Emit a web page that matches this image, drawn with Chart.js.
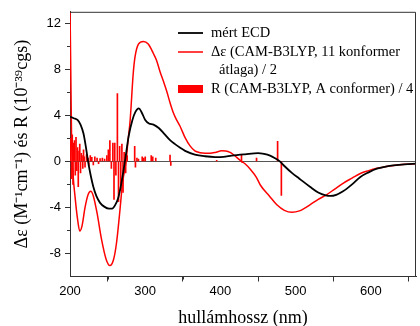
<!DOCTYPE html>
<html>
<head>
<meta charset="utf-8">
<script src="https://cdn.jsdelivr.net/npm/chart.js@4.4.0/dist/chart.umd.min.js"></script>
<style>
  body { margin: 0; background: #fff; }
</style>
</head>
<body>
<canvas id="myChart" width="420" height="326"></canvas>
<script>
// measured ECD
var ecdNm  = [200, 205, 210, 214, 218, 221, 224, 227, 231, 235, 240, 246, 252, 256, 260, 264, 268, 273, 278, 283, 287, 291.5, 295, 300, 305, 311, 318, 326, 333, 339.6, 346, 353, 366, 379.5, 393, 404, 415, 432.7, 450, 458, 466, 472, 479, 485, 495, 505, 519, 530, 540, 546, 554, 563, 575, 586, 597, 608, 620, 630, 645, 660];
var ecdVal = [3.9, 3.75, 3.6, 3.2, 2.4, 1.3, 0, -1.05, -2.2, -3.0, -3.6, -3.95, -4.1, -4.1, -3.8, -3.2, -2.0, 0, 2.2, 3.6, 4.3, 4.6, 4.3, 3.6, 3.3, 3.2, 2.9, 2.35, 1.85, 1.5, 1.2, 0.92, 0.6, 0.45, 0.38, 0.4, 0.5, 0.62, 0.72, 0.65, 0.5, 0.3, 0, -0.4, -1.0, -1.5, -2.2, -2.7, -2.95, -3.0, -2.9, -2.6, -2.0, -1.35, -0.95, -0.63, -0.45, -0.35, -0.25, -0.2];

// calculated, 11 conformer average / 2
var calcNm  = [200, 201, 202, 204, 206.6, 210, 213, 216, 220, 224, 227.5, 231, 236, 242, 248, 253, 258, 262, 266, 270, 274.5, 277, 280, 284, 286.5, 291, 297.5, 304, 310.7, 315, 319.7, 324, 328.6, 333, 337, 341, 346, 353, 359.6, 366, 373, 379.5, 386, 393, 401.7, 407, 412.8, 417, 421.6, 427, 432.7, 440, 448, 453, 465, 475, 485, 495, 505, 519, 530, 541, 552, 563, 575, 586, 597, 608, 620, 630, 645, 660];
var calcVal = [13.5, 8, 2.5, -1.0, -3.0, -5.0, -6.05, -5.6, -4.0, -2.9, -2.6, -3.0, -4.5, -6.8, -8.5, -9.05, -8.5, -7.0, -4.5, -1.8, 0, 1.7, 3.6, 7.6, 9.1, 10.2, 10.43, 10.2, 9.4, 8.8, 7.8, 7.0, 6.1, 5.1, 4.3, 3.7, 3.1, 2.07, 1.35, 0.92, 0.76, 0.72, 0.72, 0.78, 0.92, 0.9, 0.78, 0.6, 0.35, 0.05, -0.2, -0.7, -1.4, -2.05, -3.0, -3.77, -4.25, -4.42, -4.3, -3.77, -3.3, -2.9, -2.4, -1.9, -1.45, -1.05, -0.8, -0.6, -0.45, -0.35, -0.25, -0.2];

// rotatory strengths, conformer A / 4
var stickNm = [201, 202, 203, 204, 205, 206, 207, 208, 209, 210, 211, 212, 213, 214, 215, 216, 217, 218, 219, 220, 222, 224, 225, 227, 229, 231, 233, 236, 238, 240, 243, 246, 249, 251, 253, 255, 257, 258.5, 259.5, 261, 263, 264.5, 266, 267.5, 269, 270.5, 272, 274, 276, 286, 287, 289, 291, 296, 298, 300, 308, 310, 314, 333, 334, 395, 428, 429, 448, 476, 481];
var stickR  = [2.0, -1.5, 2.3, -2.0, 1.6, 1.8, -1.2, 2.1, -0.8, 1.2, -2.2, 0.9, 1.5, -1.0, 0.7, 0.5, -0.6, 1.0, 0.4, -0.5, 0.6, 0.3, -0.4, 0.5, 0.35, -0.3, 0.4, 0.3, -0.2, 0.25, 0.3, 0.2, 0.5, 1.0, 1.8, -0.6, 1.6, -3.3, 1.6, -1.2, 5.9, -3.5, 1.3, -2.5, 1.5, -2.7, 0.8, -1.0, 0.5, 1.3, -0.5, 0.3, 0.2, 0.4, 0.3, 0.4, 0.5, 0.4, 0.3, 0.55, -0.35, 0.1, 0.55, -0.1, 0.3, 1.75, -2.95];

var xTicks = [200, 300, 400, 500, 600];
var xMinor = [250, 350, 450, 550, 650];
var yTicks = [-8, -4, 0, 4, 8, 12];
var yMinor = [-6, -2, 2, 6, 10];

var legendText = [["mért ECD"], ["Δε (CAM-B3LYP, 11 konformer", "átlaga) / 2"], ["R (CAM-B3LYP, A conformer) / 4"]];

function pts(xs, ys) {
  return xs.map(function (x, i) { return { x: x, y: ys[i] }; });
}

var axisColor = "#333";
var serif = "'Liberation Serif', 'Times New Roman', serif";
var sans = "'Liberation Sans', Arial, sans-serif";

// minor ticks, top/right frame and the legend box
var extras = {
  id: "extras",
  afterDraw: function (chart) {
    var c = chart.ctx, a = chart.chartArea;
    var xs = chart.scales.x, ys = chart.scales.y;
    c.save();
    c.strokeStyle = axisColor;
    c.lineWidth = 1;
    c.beginPath();
    c.moveTo(a.left, a.top + 0.5);
    c.lineTo(a.right - 0.5, a.top + 0.5);
    c.lineTo(a.right - 0.5, a.bottom);
    xMinor.forEach(function (v) {
      var px = Math.round(xs.getPixelForValue(v)) + 0.5;
      c.moveTo(px, a.bottom);
      c.lineTo(px, a.bottom + 3);
    });
    yMinor.forEach(function (v) {
      var py = Math.round(ys.getPixelForValue(v)) + 0.5;
      c.moveTo(a.left, py);
      c.lineTo(a.left - 3, py);
    });
    c.stroke();

    // legend
    var ds = chart.data.datasets;
    c.lineWidth = ds[0].borderWidth;
    c.strokeStyle = ds[0].borderColor;
    c.beginPath(); c.moveTo(178, 33); c.lineTo(203, 33); c.stroke();
    c.lineWidth = ds[1].borderWidth;
    c.strokeStyle = ds[1].borderColor;
    c.beginPath(); c.moveTo(178, 52); c.lineTo(203, 52); c.stroke();
    c.fillStyle = ds[2].backgroundColor;
    c.fillRect(178, 85, 25, 8);

    c.fillStyle = "#000";
    c.font = "14.5px " + serif;
    c.textBaseline = "middle";
    c.fillText(legendText[0][0], 211, 33);
    c.fillText(legendText[1][0], 211, 52);
    c.fillText(legendText[1][1], 219, 70);
    c.fillText(legendText[2][0], 211, 89);
    c.restore();
  }
};

new Chart("myChart", {
  type: "line",
  data: {
    datasets: [{
      label: "mért ECD",
      data: pts(ecdNm, ecdVal),
      borderColor: "#000000",
      borderWidth: 1.8,
      pointRadius: 0,
      cubicInterpolationMode: "monotone"
    }, {
      label: "Δε (CAM-B3LYP, 11 konformer átlaga) / 2",
      data: pts(calcNm, calcVal),
      borderColor: "#ff0000",
      borderWidth: 1.5,
      pointRadius: 0,
      cubicInterpolationMode: "monotone"
    }, {
      type: "bar",
      label: "R (CAM-B3LYP, A conformer) / 4",
      data: pts(stickNm, stickR),
      backgroundColor: "#ff0000",
      barThickness: 1
    }]
  },
  options: {
    responsive: false,
    animation: false,
    layout: { padding: { top: 10, right: 4, left: 0, bottom: 0 } },
    plugins: {
      legend: { display: false },
      tooltip: { enabled: false }
    },
    scales: {
      x: {
        type: "linear",
        min: 200,
        max: 660,
        offset: false,
        afterBuildTicks: function (s) { s.ticks = xTicks.map(function (v) { return { value: v }; }); },
        afterFit: function (s) { s.height = 49.5; },
        ticks: { color: "#000", font: { family: sans, size: 13 }, padding: 2, maxRotation: 0 },
        grid: { drawOnChartArea: false, tickLength: 5, tickColor: axisColor },
        border: { color: axisColor, width: 1 },
        title: {
          display: true,
          text: "hullámhossz (nm)",
          color: "#000",
          font: { family: serif, size: 18, lineHeight: 0.9 },
          padding: { top: 0, bottom: 0 }
        }
      },
      y: {
        type: "linear",
        min: -10,
        max: 13,
        afterBuildTicks: function (s) { s.ticks = yTicks.map(function (v) { return { value: v }; }); },
        afterFit: function (s) { s.width = 70; },
        ticks: { color: "#000", font: { family: sans, size: 13 }, padding: 4 },
        grid: {
          drawOnChartArea: true,
          tickLength: 5,
          tickColor: axisColor,
          color: function (ctx) { return ctx.tick && ctx.tick.value === 0 ? "#555" : "rgba(0,0,0,0)"; }
        },
        border: { color: axisColor, width: 1 },
        title: {
          display: true,
          text: "Δε (M⁻¹cm⁻¹) és R (10⁻³⁹cgs)",
          color: "#000",
          font: { family: serif, size: 18 },
          padding: { top: 11, bottom: 0 }
        }
      }
    }
  },
  plugins: [extras]
});
</script>
</body>
</html>
